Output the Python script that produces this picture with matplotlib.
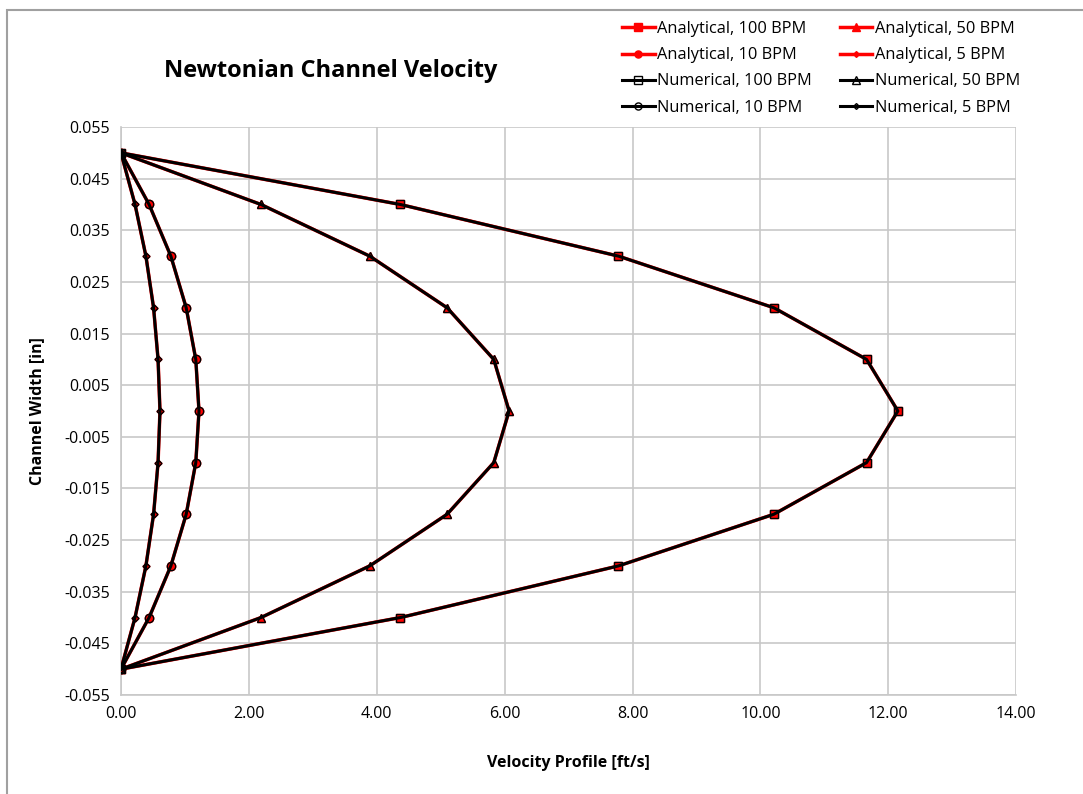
import numpy as np
import matplotlib.pyplot as plt
from matplotlib.patches import Rectangle

plt.rcParams['font.family'] = ['Open Sans', 'DejaVu Sans']

# channel width positions [in]
width = [0.05, 0.04, 0.03, 0.02, 0.01, 0.0, -0.01, -0.02, -0.03, -0.04, -0.05]

# velocity profiles [ft/s]
vel_100 = [0.0, 4.37, 7.78, 10.21, 11.66, 12.15, 11.66, 10.21, 7.78, 4.37, 0.0]
vel_50 = [0.0, 2.19, 3.89, 5.10, 5.83, 6.07, 5.83, 5.10, 3.89, 2.19, 0.0]
vel_10 = [0.0, 0.44, 0.78, 1.02, 1.17, 1.22, 1.17, 1.02, 0.78, 0.44, 0.0]
vel_5 = [0.0, 0.22, 0.39, 0.51, 0.58, 0.61, 0.58, 0.51, 0.39, 0.22, 0.0]

rates = ['100 BPM', '50 BPM', '10 BPM', '5 BPM']
markers = ['s', '^', 'o', 'D']
msizes = [6, 6, 6, 3.5]
profiles = [vel_100, vel_50, vel_10, vel_5]

fig = plt.figure(figsize=(10.83, 7.94), dpi=100)
ax = fig.add_axes([0.1117, 0.1247, 0.8266, 0.7153])

# outer chart border
fig.patches.append(Rectangle((0.0065, -0.1), 1.2, 1.0875, transform=fig.transFigure,
                             fill=False, edgecolor='#a0a0a0', linewidth=1.5))

handles = {}
for lbl, m, ms, v in zip(rates, markers, msizes, profiles):
    h, = ax.plot(v, width, color='red', linewidth=2.5, marker=m, markersize=ms,
                 markerfacecolor='red', markeredgecolor='red', zorder=3,
                 label='Analytical, ' + lbl)
    handles['a' + lbl] = h
for lbl, m, ms, v in zip(rates, markers, msizes, profiles):
    h, = ax.plot(v, width, color='black', linewidth=2.2, marker=m, markersize=ms,
                 markerfacecolor='none', markeredgecolor='black', markeredgewidth=1.0,
                 zorder=4, label='Numerical, ' + lbl)
    handles['n' + lbl] = h

ax.set_xlim(0, 14)
ax.set_ylim(-0.055, 0.055)
ax.set_xticks(np.arange(0, 14.1, 2))
ax.set_xticklabels(['%.2f' % t for t in np.arange(0, 14.1, 2)])
yt = np.arange(-0.055, 0.0551, 0.01)
ax.set_yticks(yt)
ax.set_yticklabels(['%.3f' % round(t, 3) for t in yt])
ax.tick_params(length=0, labelsize=11.5, pad=8)
ax.grid(True, color='#c8c8c8', linewidth=1.2)
ax.set_axisbelow(True)
for s in ['top', 'right']:
    ax.spines[s].set_visible(False)
for s in ['left', 'bottom']:
    ax.spines[s].set_color('#c8c8c8')
    ax.spines[s].set_linewidth(1.2)

ax.set_xlabel('Velocity Profile [ft/s]', fontsize=11.5, fontweight='bold', labelpad=24)
ax.set_ylabel('Channel Width [in]', fontsize=11.5, fontweight='bold', labelpad=14)
fig.text(0.305, 0.91, 'Newtonian Channel Velocity', fontsize=17, fontweight='bold',
         ha='center', va='center')

order = ['a100 BPM', 'a10 BPM', 'n100 BPM', 'n10 BPM',
         'a50 BPM', 'a5 BPM', 'n50 BPM', 'n5 BPM']
hs = [handles[k] for k in order]
fig.legend(hs, [h.get_label() for h in hs], ncol=2, loc='upper left',
           bbox_to_anchor=(0.5605, 0.992), frameon=False, fontsize=11.8,
           handlelength=2.0, handletextpad=0.15, columnspacing=1.7,
           labelspacing=0.62, markerscale=0.85)

fig.savefig('out.png', dpi=100)
